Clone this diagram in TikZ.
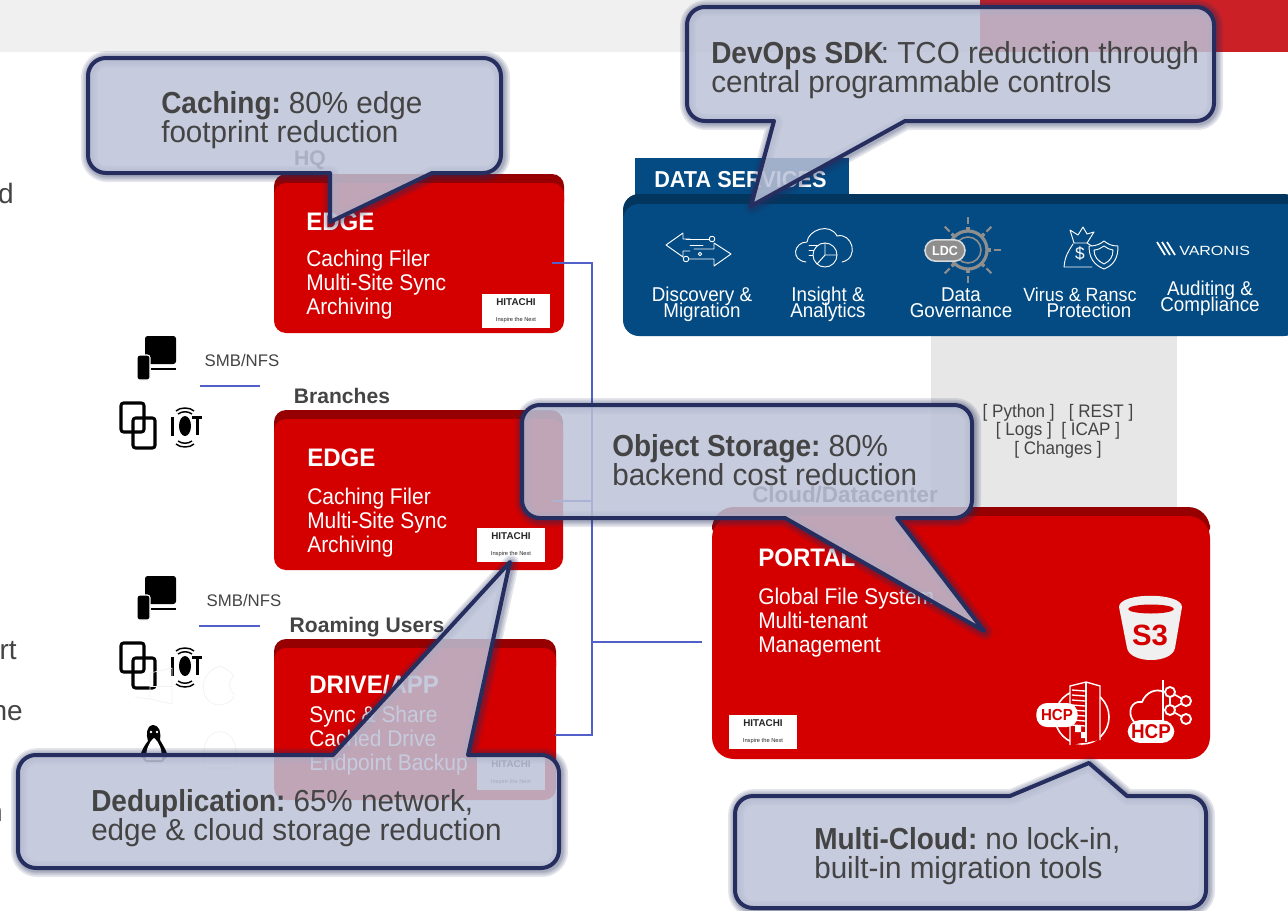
\documentclass[tikz,border=0pt]{standalone}
\usepackage{fontspec}
\setmainfont{Liberation Sans}
\newfontfamily\cond[FakeStretch=0.94]{Liberation Sans}
\newfontfamily\semi[FakeStretch=0.975,BoldFeatures={FakeStretch=0.92}]{Liberation Sans}
\newfontfamily\body[FakeStretch=0.925]{Liberation Sans}
\newfontfamily\tit[FakeStretch=0.95]{Liberation Sans}
\newfontfamily\wide[FakeStretch=1.2]{Liberation Sans}
\usetikzlibrary{calc}
\definecolor{hred}{HTML}{D40000}
\definecolor{hdark}{HTML}{960000}
\definecolor{navy}{HTML}{252E5E}
\definecolor{bubfill}{RGB}{188,194,215}
\definecolor{dsblue}{HTML}{034B82}
\definecolor{dsdark}{HTML}{02365F}
\definecolor{bus}{HTML}{5060C8}
\definecolor{txt}{HTML}{444444}
\definecolor{barg}{HTML}{F0F0F0}
\definecolor{barr}{HTML}{CC2027}
\definecolor{strip}{HTML}{E7E7E7}
\definecolor{gearg}{HTML}{8E8E8E}
\newcommand{\fz}[2]{\fontsize{#1pt}{#2pt}\selectfont\lineskiplimit=-30pt\relax}
% red card: name, x1, y1, x2, y2, radius
\newcommand{\card}[6]{%
  \fill[hdark,rounded corners=#6*0.75pt] (#2,#3) rectangle (#4,#3+40);
  \fill[hred,rounded corners=#6*0.75pt] (#2,#3+9) rectangle (#4,#5);
  \coordinate (#1) at (#2,#3);
}
\newcommand{\logo}[3]{%
  \node[fill=white,minimum width=51pt,minimum height=26pt,inner sep=0pt,text=black!85,align=center] (#1) at (#2,#3) {\bfseries\fz{7.4}{5}HITACHI\\\fz{4.3}{5}Inspire the Next};
}
% bubble outlines with round corners; #5 = extra points of the edge with the pointer
\newcommand{\pathdown}[5]{(#1+18,#2) -- (#3-18,#2) .. controls (#3-8,#2) and (#3,#2+8) .. (#3,#2+18) -- (#3,#4-18) .. controls (#3,#4-8) and (#3-8,#4) .. (#3-18,#4) -- #5 -- (#1+18,#4) .. controls (#1+8,#4) and (#1,#4-8) .. (#1,#4-18) -- (#1,#2+18) .. controls (#1,#2+8) and (#1+8,#2) .. (#1+18,#2) -- cycle}
\newcommand{\pathup}[5]{(#1+18,#2) -- #5 -- (#3-18,#2) .. controls (#3-8,#2) and (#3,#2+8) .. (#3,#2+18) -- (#3,#4-18) .. controls (#3,#4-8) and (#3-8,#4) .. (#3-18,#4) -- (#1+18,#4) .. controls (#1+8,#4) and (#1,#4-8) .. (#1,#4-18) -- (#1,#2+18) .. controls (#1,#2+8) and (#1+8,#2) .. (#1+18,#2) -- cycle}
\newcommand{\bubble}{%
  \foreach \w in {12,9.5,7,5}{\draw[navy,opacity=0.12,line width=\w pt,line join=round,xshift=0.8pt,yshift=-0.8pt] \cpath;}
  \fill[bubfill,opacity=0.85] \cpath;
  \draw[navy,line width=3pt,line join=round] \cpath;
}
\newcommand{\bb}[1]{\textbf{#1}\kern-2.2pt\relax}
\tikzset{
  bubtext/.style={text=txt,align=left,anchor=west,inner sep=0pt,font=\semi\fz{22.8}{22.2}},
  cardtitle/.style={text=white,anchor=west,inner sep=0pt,font=\tit\bfseries\fz{19}{19}},
  cardbody/.style={text=white,anchor=west,align=left,inner sep=0pt,font=\body\fz{17}{18}},
  zonelabel/.style={text=txt,inner sep=0pt,font=\bfseries\fz{15.8}{16}},
  smb/.style={text=txt,inner sep=0pt,font=\fz{12.6}{13}},
  dslabel/.style={text=white,align=center,inner sep=0pt,font=\cond\fz{15}{12}},
  api/.style={text=txt,inner sep=0pt,font=\cond\fz{13.6}{14}},
  busline/.style={bus,line width=1.8pt},
  thinw/.style={draw=white,line width=0.7pt,line join=round,line cap=round},
  fragment/.style={text=txt,inner sep=0pt,anchor=east,font=\fz{21}{22}}
}
\begin{document}
\begin{tikzpicture}[x=0.75pt,y=-0.75pt]
\useasboundingbox (0,0) rectangle (1288,910);
\clip (0,0) rectangle (1288,910);
% top bar
\fill[barg] (0,0) rectangle (980,52);
\fill[barr] (980,0) rectangle (1288,52);
% cut-off text on the left
\node[fragment] (fragA) at (14,193) {d};
\node[fragment] (fragB) at (17,651) {rt};
\node[fragment] (fragC) at (23,713) {ne};
\node[fragment] (fragD) at (3,814) {n};
% grey strip
\fill[strip] (931,330) rectangle (1177,515);
\node[api] (apiA) at (1058,413) {[ Python ] \ \ [ REST ]};
\node[api] (apiB) at (1058,431) {[ Logs ] \ [ ICAP ]};
\node[api] (apiC) at (1058,450) {[ Changes ]};
% data services
\fill[dsblue] (635,158) rectangle (849,200);
\node[text=white,anchor=west,inner sep=0pt,font=\bfseries\cond\fz{17.3}{18}] (dsTitle) at (654,180) {DATA SERVICES};
\fill[dsdark,rounded corners=12pt] (623,194) rectangle (1300,260);
\fill[dsblue,rounded corners=12pt] (623,204) rectangle (1300,336);
\node[dslabel] (dsA) at (702,304.5) {Discovery \&\\Migration};
\node[dslabel] (dsB) at (828,304.5) {Insight \&\\Analytics};
\node[dslabel] (dsC) at (961,302.5) {Data\\Governance};
\node[dslabel,anchor=west,font=\cond\fz{14.3}{12}] (dsD) at (1023,294.5) {Virus \& Ransc};
\node[dslabel] (dsD2) at (1089,310.5) {Protection};
\node[dslabel] (dsE) at (1210,298.5) {Auditing \&\\Compliance};
% discovery icon
\draw[thinw] (690,239) -- (683,239) -- (683,233) -- (666,245) -- (683,257) -- (683,251) -- (690,251);
\draw[thinw] (686,239) -- (712,239);
\draw[thinw] (690,245) -- (703,245);
\draw[thinw] (686,259) -- (714,259) -- (714,266) -- (731,254) -- (714,243) -- (714,249) -- (694,249);
\filldraw[thinw,fill=dsblue] (712,239) circle[radius=2.8];
\filldraw[thinw,fill=dsblue] (686,259) circle[radius=2.8];
\filldraw[thinw,fill=dsblue] (700,254) circle[radius=1.8];
% insight icon
\draw[thinw] (806,262) .. controls (790,260) and (794,242) .. (807,242) .. controls (808,230) and (830,222) .. (837,236) .. controls (852,232) and (860,258) .. (842,262);
\draw[thinw] (809,245) -- (825,245) (809,250) -- (820,250) (809,255) -- (814,255);
\filldraw[thinw,fill=dsblue] (825,255) circle[radius=12];
\draw[thinw] (825,255) -- (825,243) (825,255) -- (837,255) (825,255) -- (817,264);
% LDC icon
\foreach \a in {0,45,90,135,180,225,270,315}{\draw[gearg,line width=1.6pt] ($(968,250)+(\a:26)$) -- ($(968,250)+(\a:33)$);}
\foreach \a in {0,45,...,315}{\draw[gearg,line width=2.6pt] ($(968,250)+(\a:18)$) -- ($(968,250)+(\a:23)$);}
\draw[gearg,line width=2.4pt] (968,250) circle[radius=19];
\draw[gearg,line width=1.2pt] (968,250) circle[radius=13];
\node[draw=white!85!black,line width=1.2pt,fill=gearg,text=white,rounded corners=8pt,minimum width=30pt,minimum height=16pt,inner sep=0pt,font=\bfseries\cond\fz{10}{10}] (ldc) at (945,250.5) {LDC};
% virus icon
\draw[thinw] (1073,244) .. controls (1068,252) and (1065,256) .. (1064,267) -- (1092,267) (1074,243) -- (1070,230) -- (1078,235) -- (1083,227) -- (1087,234) -- (1094,232) -- (1087,243) -- cycle (1087,243) -- (1098,250);
\node[text=white,inner sep=0pt,font=\fz{13}{13}] (bagD) at (1080,254) {\$};
\filldraw[thinw,fill=dsblue] (1089,246) .. controls (1097,246) and (1100,244) .. (1104,241) .. controls (1108,244) and (1111,246) .. (1118,246) .. controls (1118,258) and (1114,265) .. (1104,269) .. controls (1094,265) and (1089,258) .. (1089,246) -- cycle;
\draw[thinw] (1094,250) .. controls (1098,250) and (1101,248) .. (1104,246) .. controls (1107,248) and (1110,250) .. (1113,250) .. controls (1113,257) and (1110,261) .. (1104,264) .. controls (1098,261) and (1094,257) .. (1094,250) -- cycle;
% varonis icon
\draw[white,line width=1.3pt] (1157,242) -- (1165,255) (1162,242) -- (1170,255) (1167,242) -- (1175,255);
\node[text=white,anchor=west,inner sep=0pt,font=\wide\fz{10}{11}] (varonis) at (1179,250.5) {VARONIS};
% cards
\card{edgeA}{274}{174}{564}{333}{12}
\card{edgeB}{274}{410}{563}{570}{12}
\card{drive}{274}{639}{556}{800}{12}
\card{portal}{712}{507}{1210}{759}{22}
\node[zonelabel] (hq) at (310,160) {HQ};
\node[zonelabel] (branches) at (342,396) {Branches};
\node[zonelabel] (roaming) at (367,627) {Roaming Users};
\node[zonelabel,font=\bfseries\fz{16.8}{16}] (cloud) at (845,495) {Cloud/Datacenter};
\node[cardtitle] (t1) at (306,222) {EDGE};
\node[cardbody] (b1) at (306,285) {Caching Filer\\Multi-Site Sync\\Archiving};
\node[cardtitle] (t2) at (307,458) {EDGE};
\node[cardbody] (b2) at (307,523) {Caching Filer\\Multi-Site Sync\\Archiving};
\node[cardtitle] (t3) at (309,685) {DRIVE/APP};
\node[cardbody] (b3) at (309,741) {Sync \& Share\\Cached Drive\\Endpoint Backup};
\node[cardtitle] (t4) at (758,558) {PORTAL};
\node[cardbody] (b4) at (758,623) {Global File System\\Multi-tenant\\Management};
\logo{logoA}{516}{311}
\logo{logoB}{511}{545}
\logo{logoC}{511}{773}
\logo{logoD}{763}{732}
% connectors
\coordinate (pA) at (552,263);
\coordinate (pB) at (553,501);
\coordinate (pC) at (555,735);
\coordinate (pD) at (702,642);
\coordinate (jA) at (592,263);
\coordinate (jB) at (592,501);
\coordinate (jC) at (592,735);
\coordinate (jD) at (592,642);
\draw[busline] (pA) -- (jA) -- (jC) -- (pC);
\draw[busline] (pB) -- (jB);
\draw[busline] (jD) -- (pD);
% SMB/NFS
\node[smb] (smbA) at (242,360) {SMB/NFS};
\node[smb] (smbB) at (244,600) {SMB/NFS};
\coordinate (sA1) at (200,386);\coordinate (sA2) at (260,386);
\coordinate (sB1) at (199,626);\coordinate (sB2) at (260,626);
\draw[busline] (sA1) -- (sA2);
\draw[busline] (sB1) -- (sB2);
% client icons
\foreach \dy in {0,240}{
\begin{scope}[yshift=-\dy*0.75pt]
\fill[black,rounded corners=2pt] (145,336) rectangle (176,364);
\draw[black,line width=1.8pt] (151,369) -- (176,369);
\fill[black,rounded corners=2pt] (137,355) rectangle (150,380);
\draw[white,line width=0.8pt,rounded corners=2pt] (137,355) rectangle (150,380);
\draw[black,line width=2.3pt,rounded corners=2pt] (121,403) rectangle (144,432);
\draw[black,line width=2.3pt,rounded corners=2pt] (133,418) rectangle (155,448);
\fill[black] (171,417) rectangle (174,436);
\fill[black] (185,426) ellipse[x radius=6,y radius=10];
\fill[black] (192,416) rectangle (202,419);
\fill[black] (196,416) rectangle (199,435);
\draw[black,line width=1.1pt] (176,411) .. controls (180,407) and (190,407) .. (194,411);
\draw[black,line width=1.1pt] (178,414) .. controls (182,411) and (188,411) .. (192,414);
\draw[black,line width=1.1pt] (178,441) .. controls (182,444) and (188,444) .. (192,441);
\draw[black,line width=1.1pt] (176,444) .. controls (180,448) and (190,448) .. (194,444);
\end{scope}}
% faint OS marks
\draw[black!6,line width=0.5pt] (135,697) -- (150,699) -- (172,704) -- (172,668) -- (150,673) -- (150,699);
\draw[black!6,line width=0.5pt] (150,686) -- (172,686);
\draw[black!6,line width=0.5pt] (220,666) .. controls (198,672) and (198,702) .. (218,705) .. controls (228,705) and (236,698) .. (234,694) .. controls (228,688) and (228,680) .. (234,676) .. controls (230,670) and (224,668) .. (220,666);
\draw[black!6,line width=0.5pt] (204,752) .. controls (204,725) and (236,725) .. (236,752) -- (236,768) -- (204,768) -- cycle;
% penguin
\fill[black] (153,725) .. controls (146,726) and (146,735) .. (148,741) .. controls (144,746) and (142,750) .. (140,756) -- (146,762) -- (162,762) -- (168,756) .. controls (166,750) and (163,745) .. (160,740) .. controls (161,732) and (160,726) .. (153,725) -- cycle;
\fill[white] (154,738) .. controls (148,743) and (146,750) .. (146,760) -- (162,760) .. controls (162,750) and (160,743) .. (154,738) -- cycle;
\fill[white] (151,732) circle[radius=1.4] (157,732) circle[radius=1.4];
% S3
\fill[barg] (1119,607) .. controls (1119,592) and (1182,592) .. (1182,607) -- (1175,648) .. controls (1172,664) and (1130,664) .. (1127,648) -- cycle;
\fill[hred] (1151,609) ellipse[x radius=23,y radius=4.5];
\node[text=hred,inner sep=0pt,font=\bfseries\fz{22}{22}] (sthree) at (1150,635) {S3};
% HCP building
\draw[white,line width=1.2pt] (1082,717) circle[radius=27];
\filldraw[draw=white,fill=hred,line width=1pt] (1070,745) -- (1070,686) -- (1086,682) -- (1100,686) -- (1100,740);
\foreach \yy in {690,695,...,725}{\draw[white,line width=1pt] (1072,\yy) -- (1085,\yy+1);}
\draw[white,line width=1pt] (1086,682) -- (1086,742);
\fill[white] (1075,726) rectangle (1081,732) (1081,732) rectangle (1086,738);
\node[fill=white,text=hred,rounded corners=8pt,minimum width=31pt,minimum height=18pt,inner sep=0pt,font=\bfseries\cond\fz{12}{12}] (hcpA) at (1057,715) {HCP};
% HCP cloud
\draw[white,line width=1.3pt] (1134,722) .. controls (1126,712) and (1132,700) .. (1142,702) .. controls (1146,692) and (1156,688) .. (1164,692);
\draw[white,line width=1.2pt] (1163,680) -- (1163,722);
\draw[white,line width=1.2pt] (1170,692) -- (1186,701) -- (1170,710) -- (1186,719) (1170,692) -- (1170,710);
\foreach \px/\py in {1170/692,1170/710,1186/701,1186/719}{\filldraw[draw=white,fill=hred,line width=1.4pt] (\px,\py) circle[radius=5];}
\node[fill=white,text=hred,rounded corners=9pt,minimum width=35pt,minimum height=17pt,inner sep=0pt,font=\bfseries\cond\fz{15}{15}] (hcpB) at (1151,731.5) {HCP};
% callouts
\def\cpath{\pathdown{88}{58}{501}{173}{(432,173) -- (330,222) -- (330,173)}}
\bubble
\def\cpath{\pathdown{687}{7}{1214}{121}{(905,121) -- (751,206) -- (774,121)}}
\bubble
\def\cpath{\pathup{18}{755}{559}{868}{(333,755) -- (510,562) -- (468,755)}}
\bubble
\def\cpath{\pathup{735}{796}{1206}{908}{(1010,796) -- (1089,763) -- (1127,796)}}
\bubble
\def\cpath{\pathdown{522}{405}{972}{518}{(897,518) -- (984,631) -- (785,518)}}
\bubble
\node[bubtext] (capA) at (161,120) {\bb{Caching:} 80\% edge\\footprint reduction};
\node[bubtext] (capB) at (711,70) {\bb{DevOps SDK}: TCO reduction through\\central programmable controls};
\node[bubtext] (capC) at (612,460) {\bb{Object Storage:} 80\%\\backend cost reduction};
\node[bubtext] (capD) at (91,818) {\bb{Deduplication:} 65\% network,\\edge \& cloud storage reduction};
\node[bubtext] (capE) at (814,856) {\bb{Multi-Cloud:} no lock-in,\\built-in migration tools};
\end{tikzpicture}
\end{document}
